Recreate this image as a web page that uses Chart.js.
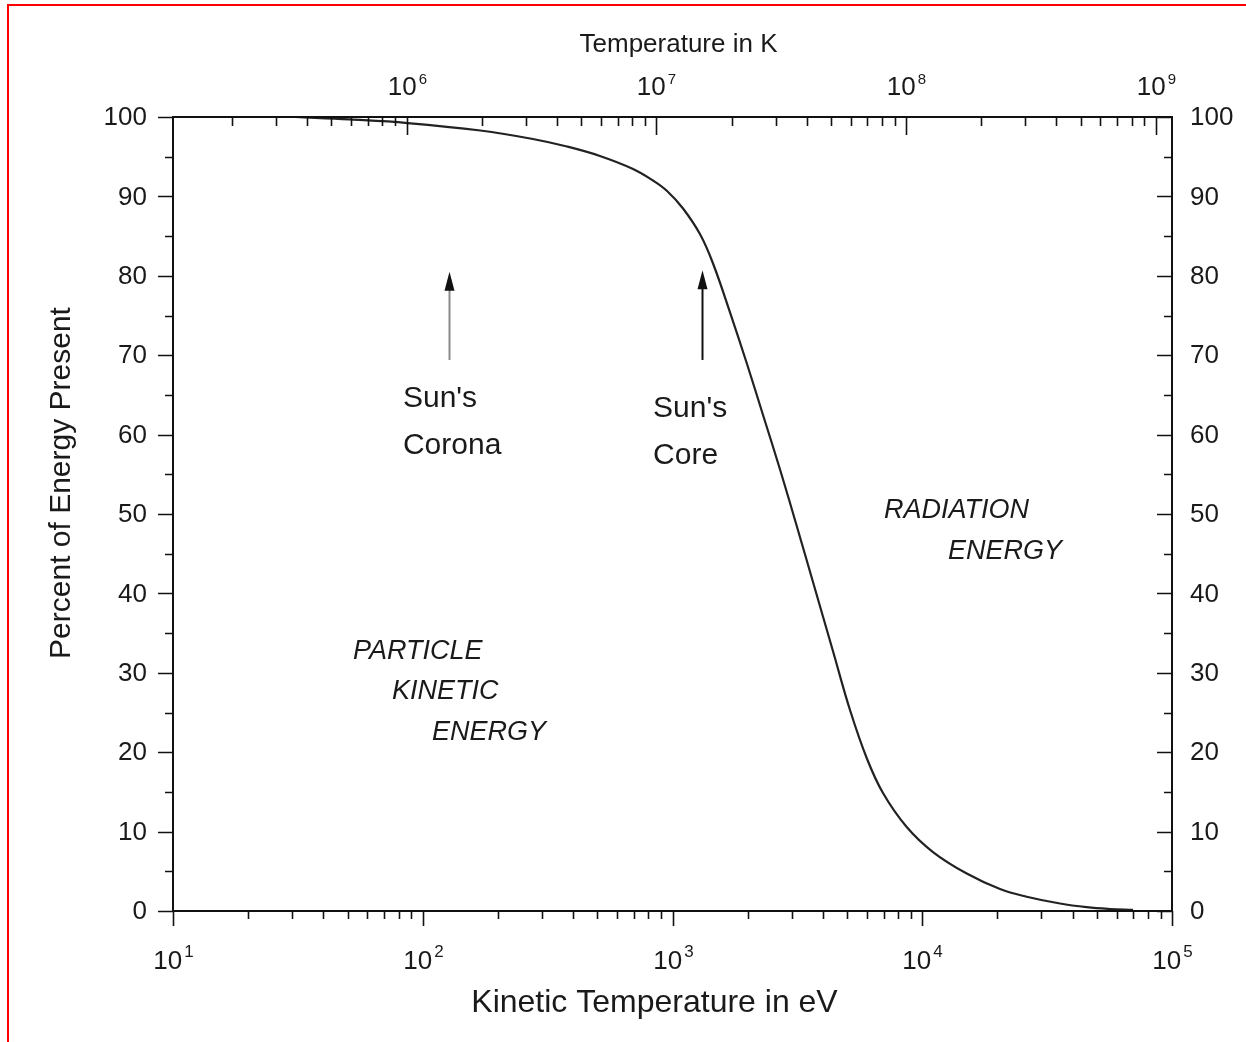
<!DOCTYPE html>
<html>
<head>
<meta charset="utf-8">
<script src="https://cdn.jsdelivr.net/npm/chart.js@4.4.1/dist/chart.umd.min.js"></script>
<style>
  html, body { margin: 0; padding: 0; background: #fff; }
  #wrap { position: relative; width: 1246px; height: 1042px; }
  #frame { position: absolute; left: 7px; top: 4px; right: 0; bottom: 0;
           border-top: 2px solid #f00; border-left: 2px solid #f00; }
  canvas { position: absolute; left: 0; top: 0; }
</style>
</head>
<body>
<div id="wrap">
  <div id="frame"></div>
  <canvas id="chart" width="1246" height="1042"></canvas>
</div>
<script>
// values
const energyEv = [31, 51, 87, 170, 276, 378, 512, 695, 835, 951, 1102, 1291, 1453, 1703, 1982, 2304, 2699, 3144, 3652, 4401, 5137, 5992, 6963, 8665, 11040, 15070, 20480, 26200, 35620, 45530, 56460, 69800];
const particlePercent = [100, 99.69, 99.24, 98.30, 97.23, 96.28, 95.09, 93.45, 92.0, 90.68, 88.48, 85.2, 81.55, 75.31, 69.02, 62.47, 55.54, 48.49, 41.44, 32.62, 25.31, 19.27, 14.86, 10.58, 7.43, 4.72, 2.77, 1.80, 0.94, 0.48, 0.25, 0.13];
const yTicks = [0, 10, 20, 30, 40, 50, 60, 70, 80, 90, 100];

const EV_TO_K = 11604.5;
const FONT = '"Liberation Sans", Arial, sans-serif';
const INK = '#1a1a1a';

function logTicks(min, max) {
  const out = [];
  for (let d = Math.floor(Math.log10(min)); d <= Math.ceil(Math.log10(max)); d++) {
    for (let k = 1; k <= 9; k++) {
      const v = k * Math.pow(10, d);
      if (v >= min * 0.999999 && v <= max * 1.000001) out.push({ v: v, major: k === 1, exp: d });
    }
  }
  return out;
}

function powerLabel(ctx, exp, x, baseY, size, supSize, rise) {
  ctx.font = size + 'px ' + FONT;
  const w1 = ctx.measureText('10').width;
  ctx.font = supSize + 'px ' + FONT;
  const w2 = ctx.measureText(String(exp)).width;
  const gap = 2;
  const start = x - (w1 + gap + w2) / 2;
  ctx.textAlign = 'left';
  ctx.textBaseline = 'alphabetic';
  ctx.font = size + 'px ' + FONT;
  ctx.fillText('10', start, baseY);
  ctx.font = supSize + 'px ' + FONT;
  ctx.fillText(String(exp), start + w1 + gap, baseY - rise);
}

function arrow(ctx, x, yFrom, yTo, shaftColor) {
  const head = 19;
  ctx.strokeStyle = shaftColor;
  ctx.lineWidth = 2;
  ctx.beginPath();
  ctx.moveTo(x, yFrom);
  ctx.lineTo(x, yTo + head - 2);
  ctx.stroke();
  ctx.fillStyle = '#111';
  ctx.beginPath();
  ctx.moveTo(x, yTo);
  ctx.lineTo(x - 5, yTo + head);
  ctx.lineTo(x + 5, yTo + head);
  ctx.closePath();
  ctx.fill();
}

const axesPlugin = {
  id: 'axesPlugin',
  afterDraw(chart) {
    const ctx = chart.ctx;
    const a = chart.chartArea;
    const sx = chart.scales.x, st = chart.scales.xTop, sy = chart.scales.y;
    const MAJ = 15, MIN = 8;
    ctx.save();

    // frame
    ctx.strokeStyle = '#111';
    ctx.lineWidth = 2;
    ctx.strokeRect(a.left, a.top, a.right - a.left, a.bottom - a.top);

    ctx.lineWidth = 1.6;
    ctx.fillStyle = INK;

    // bottom axis (eV), ticks outward
    logTicks(sx.min, sx.max).forEach(t => {
      const px = Math.round(sx.getPixelForValue(t.v)) + 0.5;
      ctx.beginPath();
      ctx.moveTo(px, a.bottom);
      ctx.lineTo(px, a.bottom + (t.major ? MAJ : MIN));
      ctx.stroke();
      if (t.major) powerLabel(ctx, t.exp, px, 969, 26, 17, 12);
    });

    // top axis (K), ticks inward
    logTicks(st.min, st.max).forEach(t => {
      const px = Math.round(st.getPixelForValue(t.v)) + 0.5;
      ctx.beginPath();
      ctx.moveTo(px, a.top);
      ctx.lineTo(px, a.top + (t.major ? MAJ + 3 : MIN + 1));
      ctx.stroke();
      if (t.major) powerLabel(ctx, t.exp, px, 95, 26, 15, 11);
    });

    // left (outward) and right (inward) axes
    for (let v = sy.min; v <= sy.max; v += 5) {
      const py = Math.round(sy.getPixelForValue(v)) + 0.5;
      const major = v % 10 === 0;
      const len = major ? MAJ : MIN;
      ctx.beginPath();
      ctx.moveTo(a.left - len, py);
      ctx.lineTo(a.left, py);
      ctx.moveTo(a.right - len, py);
      ctx.lineTo(a.right, py);
      ctx.stroke();
    }
    ctx.font = '26px ' + FONT;
    ctx.textBaseline = 'middle';
    yTicks.forEach(v => {
      const py = sy.getPixelForValue(v) + 1;
      ctx.textAlign = 'right';
      ctx.fillText(String(v), a.left - 26, py);
      ctx.textAlign = 'left';
      ctx.fillText(String(v), a.right + 18, py);
    });

    // titles
    ctx.textAlign = 'center';
    ctx.textBaseline = 'alphabetic';
    ctx.font = '26px ' + FONT;
    ctx.fillText('Temperature in K', (a.left + a.right) / 2 + 6, 52);
    ctx.font = '32px ' + FONT;
    ctx.fillText('Kinetic Temperature in eV', (a.left + a.right) / 2 - 18, 1012);
    ctx.font = '30px ' + FONT;
    ctx.save();
    ctx.translate(70, (a.top + a.bottom) / 2 - 31);
    ctx.rotate(-Math.PI / 2);
    ctx.fillText('Percent of Energy Present', 0, 0);
    ctx.restore();

    // annotations placed in data coordinates
    const X = e => sx.getPixelForValue(e);
    const Y = p => sy.getPixelForValue(p);
    arrow(ctx, Math.round(X(127)) + 0.5, Y(69.4), Y(80.5), '#8a8a8a');
    arrow(ctx, Math.round(X(1312)) + 0.5, Y(69.4), Y(80.7), '#111');

    ctx.fillStyle = INK;
    ctx.textAlign = 'left';
    ctx.textBaseline = 'middle';
    ctx.font = '30px ' + FONT;
    ctx.fillText("Sun's", X(83.3), Y(64.5));
    ctx.fillText('Corona', X(83.3), Y(58.6));
    ctx.fillText("Sun's", X(836), Y(63.2));
    ctx.fillText('Core', X(836), Y(57.3));

    ctx.font = 'italic 27px ' + FONT;
    ctx.fillText('PARTICLE', X(52.6), Y(32.7));
    ctx.fillText('KINETIC', X(75.3), Y(27.6));
    ctx.fillText('ENERGY', X(108.9), Y(22.5));
    ctx.fillText('RADIATION', X(7028), Y(50.5));
    ctx.fillText('ENERGY', X(12680), Y(45.3));

    ctx.restore();
  }
};

new Chart(document.getElementById('chart'), {
  type: 'line',
  data: {
    datasets: [{
      label: 'Particle kinetic energy',
      data: energyEv.map((e, i) => ({ x: e, y: particlePercent[i] })),
      borderColor: '#222',
      borderWidth: 2.2,
      pointRadius: 0,
      fill: false,
      tension: 0.4
    }]
  },
  options: {
    responsive: false,
    animation: false,
    devicePixelRatio: 1,
    layout: { padding: { left: 173, top: 117, right: 74, bottom: 131 } },
    plugins: { legend: { display: false }, tooltip: { enabled: false } },
    scales: {
      x: { type: 'logarithmic', min: 10, max: 1e5, display: false },
      xTop: { type: 'logarithmic', position: 'top', min: 10 * EV_TO_K, max: 1e5 * EV_TO_K, display: false },
      y: { type: 'linear', min: 0, max: 100, display: false }
    }
  },
  plugins: [axesPlugin]
});
</script>
</body>
</html>
